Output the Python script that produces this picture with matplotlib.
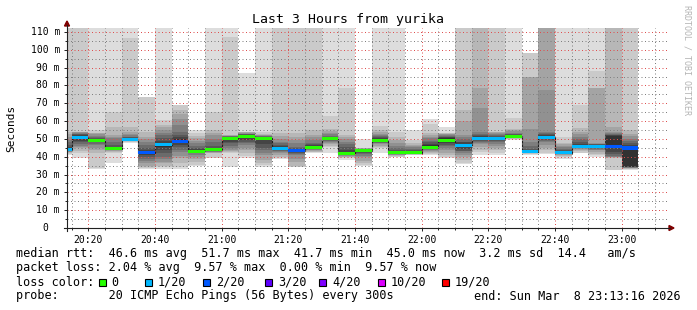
import numpy as np
import matplotlib
matplotlib.use("Agg")
import matplotlib.pyplot as plt
from matplotlib.patches import Rectangle, Polygon
from matplotlib.lines import Line2D

plt.rcParams['font.family'] = ['DejaVu Sans Mono']

# 5 minute steps, minutes after 20:00 (the first one is cut by the left edge)
step_start = np.arange(10, 185, 5)

median_ms = [43.8, 50.9, 49.2, 44.5, 49.4, 42.3, 46.8, 48.6, 43.2, 43.8,
             50.3, 51.6, 50.3, 44.5, 43.4, 45.2, 50.1, 41.7, 43.4, 49.0,
             42.3, 42.3, 45.1, 49.0, 46.4, 50.5, 50.3, 51.6, 42.7, 50.9,
             42.3, 46.0, 45.8, 46.0, 44.9]
lost = [1, 1, 0, 0, 1, 2, 1, 2, 0, 0,
        0, 0, 0, 1, 2, 0, 0, 0, 0, 0,
        0, 0, 0, 0, 1, 1, 1, 0, 1, 1,
        1, 1, 1, 2, 2]

# 20 sorted ping times per step, ms (150 = off the top of the graph)
pings_ms = [
    [41, 41.5, 42, 42.5, 42.8, 43, 43.2, 43.4, 43.6, 43.7, 44.5, 45.5, 46.5, 48, 49.5, 51, 52.5, 54.1, 150, 150],
    [39.2, 41.9, 43, 44.7, 45.5, 46.2, 47.1, 48, 49, 50, 51.8, 52.2, 52.6, 53, 53.3, 53.6, 53.9, 54.1, 150, 150],
    [32.9, 33.5, 41.9, 43.5, 45, 46.6, 47.3, 48, 48.3, 48.8, 49.6, 50, 50.3, 51, 51.8, 52.5, 53.1, 53.1, 55, 150],
    [36.7, 41.9, 42.8, 43.2, 43.5, 43.7, 43.9, 44.1, 44.3, 44.4, 44.8, 45.5, 46.5, 48, 50.3, 51.2, 52.2, 56.9, 65.3, 150],
    [47.5, 48.5, 48.8, 48.9, 49, 49.1, 49.2, 49.3, 49.3, 49.4, 50, 50.4, 50.8, 51.3, 52.2, 53, 54.1, 56.9, 106.4, 150],
    [33.3, 33.5, 34, 35, 36.3, 37.5, 38.5, 40, 41, 42, 42.6, 43.5, 44.7, 46.5, 48.5, 50, 51, 54, 73.7, 73.7],
    [33.3, 34, 35, 36.3, 37.2, 38.5, 40, 41.9, 43.5, 45.5, 47.8, 49, 50.5, 52.2, 53.5, 55, 56.5, 57.8, 60.6, 150],
    [33.3, 34.5, 36.5, 39.1, 40.5, 42.8, 44, 45.5, 46.5, 47.9, 50, 51, 52.2, 54, 57.8, 61, 64, 66.2, 69, 69],
    [34.8, 35.2, 37.2, 38.5, 40, 41, 42, 42.4, 42.7, 43, 43.8, 44.3, 44.7, 46, 47.5, 49, 50.3, 51.5, 53.1, 55],
    [39.1, 39.5, 41.9, 42.3, 42.6, 42.9, 43.1, 43.3, 43.5, 43.7, 44.2, 44.7, 46, 48, 50, 52, 53.5, 55, 65.3, 150],
    [34.4, 41.9, 42.5, 43.2, 44, 44.7, 46, 47.5, 48.5, 49.4, 50.7, 50.9, 51.2, 51.5, 51.7, 51.9, 52, 52.2, 107.4, 150],
    [39.1, 40.5, 42, 43.8, 45, 46.6, 47.5, 48.5, 49.5, 50.5, 52, 52.2, 52.5, 52.8, 53, 53.3, 53.6, 54, 54.1, 87.2],
    [34.4, 35.5, 36.5, 38, 40.9, 42, 43.5, 44.7, 47, 49.4, 50.6, 50.9, 51.2, 51.5, 51.8, 52, 52.2, 53, 54.1, 150],
    [38.7, 39.2, 40, 40.8, 41.9, 42.5, 43, 43.5, 43.8, 44.2, 45.3, 46, 46.8, 47.7, 48.5, 50, 51.5, 53.1, 150, 150],
    [34, 34.3, 35, 37, 39, 41, 41.8, 42.3, 42.8, 43, 44.1, 44.6, 45.1, 45.6, 47.5, 49.4, 51, 53.1, 150, 150],
    [42.3, 42.5, 42.8, 43.2, 43.6, 44, 44.4, 44.7, 44.9, 45.1, 46, 46.5, 47, 47.5, 49.5, 51, 52.2, 55, 150, 150],
    [41.9, 45.6, 46.3, 47, 47.7, 48.3, 49, 49.3, 49.6, 49.8, 50.7, 51, 51.3, 51.6, 52.5, 53.5, 54.5, 55.4, 62.8, 150],
    [38.2, 39.1, 39.6, 40, 40.4, 40.8, 41, 41.2, 41.4, 41.6, 42.8, 44, 45.5, 47, 48.5, 50, 51, 52.2, 78.4, 150],
    [35, 35.5, 36.3, 37.5, 39.6, 40.5, 41.3, 42, 42.6, 43, 43.8, 44, 44.1, 44.2, 44.4, 44.6, 44.8, 45, 45.1, 49.7],
    [41.9, 44.7, 45.3, 46, 47.1, 47.5, 47.8, 48.2, 48.5, 48.8, 49.8, 50.3, 51, 51.6, 52.2, 53, 54, 55, 57.2, 150],
    [39.6, 40, 40.4, 40.8, 41.1, 41.4, 41.6, 41.8, 42, 42.2, 42.8, 43.3, 43.8, 45, 46.3, 47.5, 49.5, 51.3, 54.1, 150],
    [41, 41.2, 41.4, 41.6, 41.8, 41.9, 42, 42.1, 42.2, 42.3, 42.8, 43.2, 43.8, 44.5, 45.3, 46, 46.6, 47.5, 49.4, 55],
    [41, 41.5, 42.3, 42.8, 43.3, 43.8, 44.2, 44.5, 44.8, 45, 46.6, 47.3, 48, 49, 50.3, 51, 52, 53.1, 58.4, 61],
    [39.5, 40, 41, 42.3, 43.5, 44.7, 45.8, 46.8, 47.5, 48, 50.3, 50.8, 51.3, 51.8, 52.2, 52.6, 53, 53.1, 53.3, 56.9],
    [35.9, 36.3, 38, 40, 41, 42, 43, 43.4, 44.5, 45.3, 47.2, 48, 48.5, 50, 51.2, 52.2, 60, 66.2, 150, 150],
    [41, 42.8, 44, 45.5, 47, 47.5, 48.2, 48.8, 49.4, 50, 51, 51.6, 52.3, 53, 54.1, 67.2, 78.4, 150, 150, 150],
    [41, 41.9, 43.5, 45, 46, 47.1, 48, 48.7, 49.4, 49.8, 51, 51.3, 51.6, 52.2, 52.8, 53.3, 53.7, 54.1, 150, 150],
    [49.4, 49.8, 50.2, 50.5, 50.8, 51, 51.2, 51.3, 51.4, 51.5, 52, 52.2, 52.6, 53, 53.5, 54.2, 54.8, 55.4, 61.6, 150],
    [41, 41.5, 41.9, 42, 42.1, 42.2, 42.3, 42.4, 42.5, 42.6, 43.2, 43.8, 44.5, 46, 48.4, 55.4, 85, 85, 98.4, 98.4],
    [41.5, 41.9, 43.5, 44.7, 46.5, 48.5, 49, 49.5, 49.8, 50.2, 51.5, 52, 52.6, 53.1, 54, 77.5, 150, 150, 150, 150],
    [38.5, 39.6, 40.2, 40.8, 41.3, 41.5, 41.7, 41.9, 42.1, 42.2, 42.8, 43.3, 43.8, 44.5, 45.3, 46.2, 47.1, 47.5, 51.3, 150],
    [41.9, 42.3, 43, 43.8, 44.5, 45, 45.3, 45.5, 45.7, 45.9, 46.8, 47.1, 48.5, 49.8, 51.3, 52.5, 54, 55.9, 69, 150],
    [39.7, 41, 41.8, 42.8, 43.5, 44, 44.4, 44.7, 45.2, 45.5, 46.3, 46.6, 47, 47.2, 47.4, 47.5, 78.4, 78.4, 88.3, 150],
    [32.4, 32.6, 39.5, 39.7, 39.9, 40, 40.5, 41.5, 42.8, 44.7, 51.6, 52, 52.4, 52.8, 53.2, 54, 56.9, 150, 150, 150],
    [32.8, 32.9, 33.2, 33.4, 33.6, 33.8, 34, 34.1, 34.3, 34.4, 45.6, 46.5, 47.5, 49, 50, 51.6, 53, 55, 150, 150],
]

loss_labels = ["0", "1/20", "2/20", "3/20", "4/20", "10/20", "19/20"]
loss_counts = [0, 1, 2, 3, 4, 10, 19]
loss_hex = ["#26ff00", "#00b8ff", "#0059ff", "#5e00ff", "#7e00ff", "#dd00ff", "#ff0000"]

stat_lines = [
    "median rtt:  46.6 ms avg  51.7 ms max  41.7 ms min  45.0 ms now  3.2 ms sd  14.4   am/s",
    "packet loss: 2.04 % avg  9.57 % max  0.00 % min  9.57 % now",
]
probe_line = "probe:       20 ICMP Echo Pings (56 Bytes) every 300s"
end_line = "end: Sun Mar  8 23:13:16 2026"

W, H = 697, 310


def fx(px):
    return px / W


def fy(py):
    return 1 - py / H


fig = plt.figure(figsize=(W / 100, H / 100), dpi=100)
fig.patch.set_facecolor("white")
ax = fig.add_axes([fx(67), fy(228), 600 / W, 200 / H])
ax.set_xlim(13.6, 193.6)
ax.set_ylim(0, 200 / 1.7818)

P = np.array(pings_ms)
n = P.shape[1]
half = n // 2
edges = np.append(step_start, step_start[-1] + 5)

# smoke: pairs of pings from the outside in, getting darker
for i in range(half):
    g = int(190 / half * (half - (i + 1))) + 50
    col = "#%02x%02x%02x" % (g, g, g)
    lo = P[:, i]
    hi = P[:, n - 1 - i]
    ax.bar(step_start, hi - lo, bottom=lo, width=5, align="edge", color=col,
           linewidth=0, antialiased=False, zorder=1)

med = np.array(median_ms)
ax.stairs(med, edges, baseline=None, color="#202020", lw=0.8, zorder=2)
cmap = dict(zip(loss_counts, loss_hex))
ax.bar(step_start, 1.7, bottom=med - 0.85, width=5, align="edge",
       color=[cmap[l] for l in lost], linewidth=0, antialiased=False, zorder=3)

# grid
ax.set_xticks(np.arange(20, 181, 20))
ax.set_xticks(np.arange(15, 194, 5), minor=True)
ax.set_xticklabels(["%d:%02d" % (20 + m // 60, m % 60) for m in range(20, 181, 20)])
ax.set_yticks(np.arange(0, 111, 10))
ax.set_yticks(np.arange(5, 112, 10), minor=True)
ax.set_axisbelow(False)
ax.grid(which="major", color=(0.87, 0.31, 0.31, 0.5), linestyle=(0, (1, 2.5)), linewidth=0.72)
ax.grid(which="minor", color=(0.5, 0.5, 0.5, 0.45), linestyle=(0, (1, 2.5)), linewidth=0.72)
for s in ax.spines.values():
    s.set_visible(False)
ax.tick_params(axis="both", which="both", color="#212121", width=0.7, direction="out")
ax.tick_params(axis="both", which="major", length=2.5)
ax.tick_params(axis="both", which="minor", length=1.5)
ax.tick_params(axis="x", labelsize=7, pad=2.5)
ax.tick_params(axis="y", labelleft=False)

for v in range(0, 111, 10):
    lbl = "%d m" % v if v else "0"
    off = -7 if v else -19
    ax.annotate(lbl, xy=(0, v), xycoords=ax.get_yaxis_transform(),
                xytext=(off, 0), textcoords="offset pixels",
                ha="right", va="center", fontsize=7)

# axis lines with arrows
axc = "#212121"
arc = "#800000"
fig.add_artist(Line2D([fx(67), fx(67)], [fy(231), fy(25)], color=axc, lw=0.8))
fig.add_artist(Line2D([fx(64), fx(670)], [fy(228), fy(228)], color=axc, lw=0.8))
fig.add_artist(Polygon([(fx(64.5), fy(26)), (fx(69.5), fy(26)), (fx(67), fy(21))],
                       closed=True, color=arc, transform=fig.transFigure))
fig.add_artist(Polygon([(fx(669), fy(225.5)), (fx(669), fy(230.5)), (fx(674), fy(228))],
                       closed=True, color=arc, transform=fig.transFigure))

# texts
fig.text(fx(348.5), fy(19), "Last 3 Hours from yurika", fontsize=9.5, ha="center", va="center")
fig.text(fx(11), fy(128), "Seconds", fontsize=8, rotation=90, ha="center", va="center")
fig.text(fx(687), fy(60), "RRDTOOL / TOBI OETIKER", fontsize=6, rotation=270,
         color="#b4b4b4", ha="center", va="center")

fs = 8.5
fig.text(fx(16), fy(254), stat_lines[0], fontsize=fs, ha="left", va="center")
fig.text(fx(16), fy(268), stat_lines[1], fontsize=fs, ha="left", va="center")
fig.text(fx(16), fy(282), "loss color:", fontsize=fs, ha="left", va="center")
sq_x = [98.7, 145, 203, 265, 319, 378, 442]
for sx, lab, c in zip(sq_x, loss_labels, loss_hex):
    fig.add_artist(Rectangle((fx(sx), fy(285.5)), 7 / W, 7 / H, transform=fig.transFigure,
                             facecolor=c, edgecolor="black", lw=0.8))
    fig.text(fx(sx + 13), fy(282), lab, fontsize=fs, ha="left", va="center")
fig.text(fx(16), fy(296), probe_line, fontsize=fs, ha="left", va="center")
fig.text(fx(681), fy(296), end_line, fontsize=fs, ha="right", va="center")

fig.savefig("out.png", dpi=100, facecolor="white")
